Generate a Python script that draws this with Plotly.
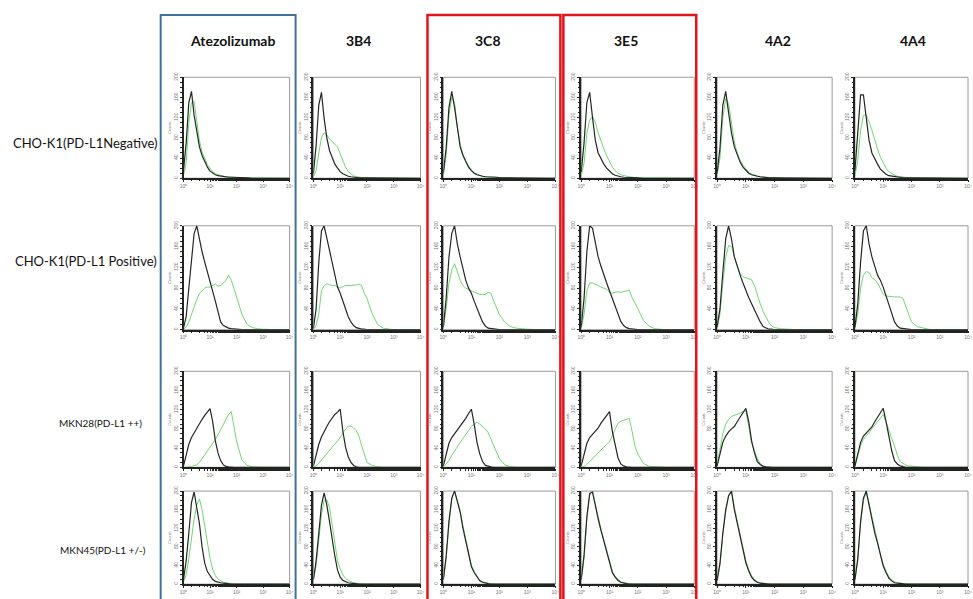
import plotly.graph_objects as go

# ---------------- data ----------------
COLUMNS = ["Atezolizumab", "3B4", "3C8", "3E5", "4A2", "4A4"]
ROWS = ["CHO-K1(PD-L1Negative)", "CHO-K1(PD-L1 Positive)", "MKN28(PD-L1 ++)", "MKN45(PD-L1 +/-)"]

# log10 fluorescence positions shared by every histogram
LOG_FL = [0.0, 0.1, 0.2, 0.3, 0.4, 0.5, 0.6, 0.7, 0.8, 0.9, 1.0, 1.1, 1.2, 1.3,
          1.4, 1.5, 1.6, 1.7, 1.8, 1.9, 2.0, 2.2, 2.4, 2.6, 2.8, 3.0, 3.5, 4.0]
X_TICKS = [1, 10, 100, 1000, 10000]
X_TICKTEXT = ["10⁰", "10¹", "10²", "10³", "10⁴"]
Y_TICKS = [0, 40, 80, 120, 160, 200]

# control (black) histograms, one list per column
BLACK_R1 = [
    [15, 70, 150, 172, 125, 90, 62, 45, 32, 22, 14, 10, 7, 5, 4, 3, 3, 2, 2, 2, 1, 1, 1, 0, 0, 0, 0, 0],
    [10, 65, 145, 170, 118, 80, 55, 40, 28, 20, 13, 9, 6, 4, 3, 2, 2, 1, 1, 1, 1, 0, 0, 0, 0, 0, 0, 0],
    [10, 60, 140, 172, 140, 95, 62, 45, 32, 22, 15, 10, 7, 5, 4, 3, 3, 2, 2, 2, 1, 1, 1, 1, 0, 0, 0, 0],
    [12, 70, 150, 170, 120, 75, 50, 38, 28, 20, 14, 9, 6, 4, 3, 2, 2, 1, 1, 1, 1, 0, 0, 0, 0, 0, 0, 0],
    [10, 60, 145, 172, 130, 90, 62, 45, 32, 22, 15, 10, 7, 5, 4, 3, 2, 2, 1, 1, 1, 1, 0, 0, 0, 0, 0, 0],
    [15, 90, 165, 165, 115, 75, 50, 38, 28, 18, 12, 8, 5, 4, 3, 2, 2, 1, 1, 1, 1, 0, 0, 0, 0, 0, 0, 0],
]
GREEN_R1 = [
    [5, 30, 110, 150, 152, 110, 75, 52, 38, 27, 19, 13, 9, 7, 5, 4, 3, 3, 2, 2, 2, 1, 1, 1, 0, 0, 0, 0],
    [3, 15, 50, 80, 90, 86, 78, 72, 66, 62, 48, 35, 22, 13, 8, 5, 3, 2, 2, 1, 1, 1, 0, 0, 0, 0, 0, 0],
    [8, 45, 125, 160, 150, 100, 68, 48, 34, 24, 16, 11, 8, 6, 4, 3, 3, 2, 2, 2, 1, 1, 1, 0, 0, 0, 0, 0],
    [5, 30, 90, 115, 122, 110, 90, 72, 58, 45, 32, 22, 15, 10, 7, 5, 4, 3, 2, 2, 1, 1, 1, 0, 0, 0, 0, 0],
    [6, 40, 120, 158, 148, 105, 72, 50, 36, 26, 18, 12, 8, 6, 4, 3, 2, 2, 1, 1, 1, 1, 0, 0, 0, 0, 0, 0],
    [5, 35, 95, 125, 125, 112, 95, 75, 58, 42, 30, 20, 13, 9, 6, 4, 3, 2, 2, 1, 1, 1, 0, 0, 0, 0, 0, 0],
]
BLACK_R2 = [
    [3, 25, 80, 140, 185, 200, 172, 150, 130, 112, 95, 75, 55, 35, 15, 8, 5, 3, 2, 1, 1, 0, 0, 0, 0, 0, 0, 0],
    [3, 40, 130, 190, 200, 175, 150, 125, 105, 82, 70, 55, 40, 25, 15, 8, 4, 2, 1, 1, 0, 0, 0, 0, 0, 0, 0, 0],
    [5, 60, 140, 185, 200, 165, 140, 115, 95, 80, 70, 55, 40, 28, 15, 7, 3, 2, 1, 1, 0, 0, 0, 0, 0, 0, 0, 0],
    [5, 60, 150, 200, 195, 165, 140, 122, 108, 90, 75, 60, 45, 28, 16, 8, 4, 2, 1, 1, 0, 0, 0, 0, 0, 0, 0, 0],
    [5, 40, 110, 175, 200, 175, 140, 120, 105, 90, 75, 62, 50, 38, 26, 15, 6, 3, 1, 1, 0, 0, 0, 0, 0, 0, 0, 0],
    [5, 50, 130, 190, 200, 165, 140, 120, 105, 95, 82, 65, 50, 32, 15, 7, 3, 2, 1, 0, 0, 0, 0, 0, 0, 0, 0, 0],
]
GREEN_R2 = [
    [0, 5, 15, 30, 45, 58, 70, 76, 80, 82, 82, 85, 88, 84, 85, 90, 95, 105, 95, 80, 62, 30, 10, 4, 2, 1, 0, 0],
    [0, 8, 30, 75, 85, 88, 87, 85, 85, 82, 80, 83, 85, 85, 85, 85, 86, 88, 85, 70, 60, 30, 10, 3, 1, 0, 0, 0],
    [5, 40, 90, 115, 127, 112, 95, 85, 80, 77, 75, 72, 70, 68, 68, 68, 72, 70, 55, 42, 29, 14, 6, 3, 2, 1, 0, 0],
    [3, 30, 75, 90, 90, 88, 85, 82, 80, 78, 72, 70, 72, 73, 72, 73, 75, 76, 62, 50, 41, 18, 7, 2, 1, 0, 0, 0],
    [3, 30, 90, 140, 162, 160, 140, 125, 108, 102, 100, 98, 96, 85, 65, 50, 35, 25, 14, 7, 4, 2, 1, 0, 0, 0, 0, 0],
    [3, 30, 80, 105, 112, 110, 100, 96, 90, 80, 68, 65, 64, 63, 63, 63, 63, 60, 45, 30, 15, 6, 3, 1, 0, 0, 0, 0],
]
BLACK_R3 = [
    [3, 25, 48, 62, 72, 82, 92, 100, 108, 115, 122, 95, 55, 30, 14, 5, 2, 1, 0, 0, 0, 0, 0, 0, 0, 0, 0, 0],
    [3, 25, 48, 63, 75, 85, 95, 103, 110, 115, 121, 75, 42, 22, 10, 4, 1, 0, 0, 0, 0, 0, 0, 0, 0, 0, 0, 0],
    [3, 30, 50, 62, 70, 76, 84, 92, 102, 112, 121, 90, 52, 28, 12, 4, 2, 1, 0, 0, 0, 0, 0, 0, 0, 0, 0, 0],
    [3, 28, 50, 62, 68, 75, 82, 92, 100, 110, 116, 75, 45, 20, 7, 3, 1, 0, 0, 0, 0, 0, 0, 0, 0, 0, 0, 0],
    [3, 30, 52, 65, 74, 80, 85, 95, 105, 115, 123, 95, 55, 30, 12, 6, 2, 1, 0, 0, 0, 0, 0, 0, 0, 0, 0, 0],
    [3, 30, 52, 65, 72, 78, 84, 95, 105, 115, 123, 95, 62, 35, 14, 7, 3, 1, 0, 0, 0, 0, 0, 0, 0, 0, 0, 0],
]
GREEN_R3 = [
    [0, 0, 1, 2, 3, 5, 10, 18, 25, 32, 40, 50, 58, 68, 78, 88, 98, 110, 116, 85, 55, 15, 4, 1, 0, 0, 0, 0],
    [0, 3, 8, 15, 22, 30, 36, 42, 48, 54, 62, 72, 80, 86, 86, 82, 76, 65, 45, 25, 10, 4, 1, 0, 0, 0, 0, 0],
    [0, 6, 14, 25, 35, 44, 52, 60, 68, 77, 85, 90, 94, 90, 85, 80, 72, 58, 42, 28, 18, 5, 1, 0, 0, 0, 0, 0],
    [0, 2, 6, 12, 20, 24, 30, 36, 42, 48, 53, 65, 80, 92, 96, 98, 100, 102, 75, 44, 28, 8, 2, 1, 0, 0, 0, 0],
    [4, 35, 70, 90, 100, 106, 108, 110, 113, 116, 117, 85, 50, 35, 18, 7, 3, 1, 0, 0, 0, 0, 0, 0, 0, 0, 0, 0],
    [2, 25, 45, 58, 64, 72, 80, 88, 96, 104, 110, 95, 75, 60, 45, 25, 12, 8, 5, 3, 2, 1, 0, 0, 0, 0, 0, 0],
]
BLACK_R4 = [
    [10, 50, 110, 175, 198, 165, 130, 80, 45, 27, 17, 10, 6, 4, 3, 2, 1, 0, 0, 0, 0, 0, 0, 0, 0, 0, 0, 0],
    [10, 50, 110, 170, 196, 170, 135, 95, 60, 30, 15, 8, 5, 3, 2, 1, 0, 0, 0, 0, 0, 0, 0, 0, 0, 0, 0, 0],
    [10, 60, 135, 185, 200, 175, 155, 120, 90, 60, 38, 25, 15, 7, 4, 2, 1, 0, 0, 0, 0, 0, 0, 0, 0, 0, 0, 0],
    [10, 62, 145, 195, 198, 165, 140, 115, 92, 65, 42, 25, 15, 8, 4, 2, 1, 0, 0, 0, 0, 0, 0, 0, 0, 0, 0, 0],
    [8, 45, 110, 160, 190, 200, 160, 130, 100, 70, 46, 28, 15, 8, 4, 2, 1, 0, 0, 0, 0, 0, 0, 0, 0, 0, 0, 0],
    [10, 55, 135, 185, 200, 170, 140, 110, 88, 60, 39, 25, 13, 7, 3, 2, 1, 0, 0, 0, 0, 0, 0, 0, 0, 0, 0, 0],
]
GREEN_R4 = [
    [5, 20, 55, 100, 140, 170, 183, 160, 125, 85, 55, 32, 18, 11, 7, 4, 3, 2, 1, 0, 0, 0, 0, 0, 0, 0, 0, 0],
    [8, 40, 95, 150, 180, 181, 165, 125, 85, 50, 33, 20, 12, 8, 5, 3, 2, 1, 0, 0, 0, 0, 0, 0, 0, 0, 0, 0],
    [8, 55, 130, 182, 200, 178, 158, 125, 95, 64, 40, 27, 16, 8, 5, 3, 2, 1, 0, 0, 0, 0, 0, 0, 0, 0, 0, 0],
    [8, 55, 140, 192, 200, 170, 145, 118, 95, 68, 45, 28, 17, 10, 5, 3, 2, 1, 0, 0, 0, 0, 0, 0, 0, 0, 0, 0],
    [6, 40, 105, 155, 188, 200, 165, 135, 105, 75, 50, 32, 18, 10, 5, 3, 2, 1, 0, 0, 0, 0, 0, 0, 0, 0, 0, 0],
    [8, 50, 130, 180, 198, 175, 145, 115, 92, 65, 43, 28, 16, 9, 5, 3, 2, 1, 0, 0, 0, 0, 0, 0, 0, 0, 0, 0],
]
BLACK = [BLACK_R1, BLACK_R2, BLACK_R3, BLACK_R4]
GREEN = [GREEN_R1, GREEN_R2, GREEN_R3, GREEN_R4]

# ---------------- layout (pixels) ----------------
W, H = 973, 599
COL_X = [(181, 288), (312, 420), (443, 556), (582, 696), (719, 835), (858, 972)]
ROW_Y = [(73, 175), (223, 328), (370, 467), (491, 585)]
TITLE_X = [230, 357, 488, 627, 780, 917]
ROW_LABEL_POS = [(82, 139, 13), (83, 259, 13), (97, 422, 10), (100, 551, 10)]

def px(x):
    return x / W

def py(y):
    return 1 - y / H

fig = go.Figure()
layout = dict(width=W, height=H, margin=dict(l=0, r=0, t=0, b=0),
              paper_bgcolor="white", plot_bgcolor="white", showlegend=False,
              shapes=[], annotations=[])

xs = [10 ** g for g in LOG_FL]
TICKFONT = dict(family="Liberation Sans", size=5, color="#777777")

for r in range(4):
    for c in range(6):
        i = r * 6 + c + 1
        xa = "x" if i == 1 else f"x{i}"
        ya = "y" if i == 1 else f"y{i}"
        xk = "xaxis" if i == 1 else f"xaxis{i}"
        yk = "yaxis" if i == 1 else f"yaxis{i}"
        x0, x1 = COL_X[c]
        y0, y1 = ROW_Y[r]
        layout["shapes"].append(dict(type="rect", xref=f"{xa} domain", yref=f"{ya} domain",
                                     x0=0, x1=1, y0=0, y1=1,
                                     line=dict(color="#9a9a9a", width=1), layer="below"))
        fig.add_trace(go.Scatter(x=xs, y=GREEN[r][c], xaxis=xa, yaxis=ya, mode="lines",
                                 line=dict(color="#6fd86f", width=1), hoverinfo="skip"))
        fig.add_trace(go.Scatter(x=xs, y=BLACK[r][c], xaxis=xa, yaxis=ya, mode="lines",
                                 line=dict(color="#262626", width=1.2), hoverinfo="skip"))
        layout[xk] = dict(domain=[px(x0), px(x1)], anchor=ya, type="log", range=[0, 4],
                          tickvals=X_TICKS, ticktext=X_TICKTEXT, tickfont=TICKFONT,
                          showgrid=False, zeroline=False, showline=True,
                          linecolor="#222222", linewidth=1.5, ticks="outside",
                          ticklen=2, tickcolor="#222222",
                          minor=dict(ticks="outside", ticklen=1.5, tickcolor="#222222", showgrid=False),
                          fixedrange=True)
        layout[yk] = dict(domain=[py(y1), py(y0)], anchor=xa, range=[0, 200],
                          tickvals=Y_TICKS, tickfont=TICKFONT, tickangle=-90,
                          showgrid=False, zeroline=False, showline=True,
                          linecolor="#222222", linewidth=1.5, ticks="outside",
                          ticklen=2, tickcolor="#222222",
                          minor=dict(ticks="outside", ticklen=1.5, dtick=10, tickcolor="#222222", showgrid=False),
                          title=dict(text="Counts", font=dict(family="Liberation Sans", size=4, color="#777777"),
                                     standoff=1),
                          fixedrange=True)

# column highlight boxes
layout["shapes"].append(dict(type="rect", xref="paper", yref="paper",
                             x0=px(158), x1=px(294), y0=-0.02, y1=py(10),
                             line=dict(color="#41719c", width=2)))
for (a, b) in [(427, 561), (564, 698)]:
    layout["shapes"].append(dict(type="rect", xref="paper", yref="paper",
                                 x0=px(a), x1=px(b), y0=-0.02, y1=py(10),
                                 line=dict(color="#e3141b", width=2.5)))

# column titles
for c, name in enumerate(COLUMNS):
    layout["annotations"].append(dict(text=f"<b>{name}</b>", xref="paper", yref="paper",
                                      x=px(TITLE_X[c]), y=py(36), showarrow=False,
                                      xanchor="center", yanchor="middle",
                                      font=dict(family="Lato", size=14, color="#111111")))
# row labels
for r, name in enumerate(ROWS):
    lx, ly, fs = ROW_LABEL_POS[r]
    layout["annotations"].append(dict(text=name, xref="paper", yref="paper",
                                      x=px(lx), y=py(ly), showarrow=False,
                                      xanchor="center", yanchor="middle",
                                      font=dict(family="Lato", size=fs, color="#111111")))

fig.update_layout(**layout)
fig.write_html("out.html", config={"displayModeBar": False},
               post_script="document.body.style.margin='0px';document.body.style.overflow='hidden';")
